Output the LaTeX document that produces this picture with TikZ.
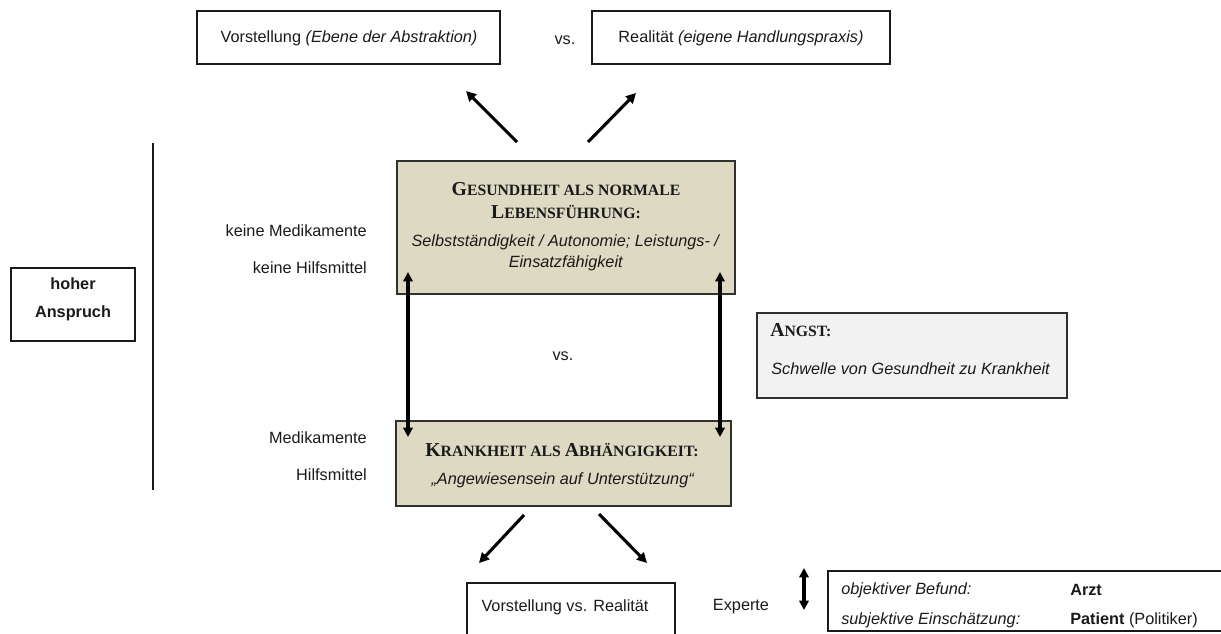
\documentclass[tikz,border=0pt]{standalone}
\usepackage{fontspec}
\setmainfont{Liberation Sans}
\newfontfamily\titlefont{Liberation Serif}
\usetikzlibrary{arrows.meta,fit}

\definecolor{tan}{HTML}{DDD9C3}
\definecolor{paleg}{HTML}{F2F2F2}
\definecolor{ink}{HTML}{1A1A1A}

% faked small capitals: large initial, smaller rest
\newcommand\capbig[1]{{\fontsize{14.8}{17}\selectfont #1}}
\newcommand\capsmall[1]{{\fontsize{11.8}{17}\selectfont #1}}

\tikzset{
  txt/.style={inner sep=0pt, text=ink, font=\fontsize{12.2}{14}\selectfont},
  plainbox/.style={draw=ink, line width=1.1pt, inner sep=0pt},
  tanbox/.style={draw=ink!90, line width=1.4pt, fill=tan, inner sep=0pt},
  greybox/.style={draw=ink!90, line width=1.4pt, fill=paleg, inner sep=0pt},
  title/.style={inner sep=0pt, text=ink, font=\titlefont\bfseries},
  arr/.style={line width=2.3pt, -{Triangle[length=7.5pt,width=7.5pt]}},
  darr/.style={line width=2.4pt, {Triangle[length=7pt,width=7pt]}-{Triangle[length=7pt,width=7pt]}},
}

\begin{document}
\begin{tikzpicture}[x=0.75pt, y=-0.75pt]
\useasboundingbox (0,0) rectangle (1221,633);
\clip (0,0) rectangle (1221,633);

% top row
\node[plainbox, fit={(197,11) (500,64)}] (vorst) {};
\node[txt] (vorstT) at (349,38) {Vorstellung \textit{(Ebene der Abstraktion)}};
\node[txt] (vsTop) at (565,40) {vs.};
\node[plainbox, fit={(592,11) (890,64)}] (real) {};
\node[txt] (realT) at (741,38) {Realität \textit{(eigene Handlungspraxis)}};

% arrows up from the health box
\coordinate (upLs) at (517,142);
\coordinate (upLe) at (466,91);
\coordinate (upRs) at (588,142);
\coordinate (upRe) at (636,93);
\draw[arr] (upLs) -- (upLe);
\draw[arr] (upRs) -- (upRe);

% left side
\coordinate (sepTop) at (153,143);
\coordinate (sepBot) at (153,490);
\draw[line width=1.1pt, ink] (sepTop) -- (sepBot);
\node[plainbox, fit={(11,268) (135,341)}] (anspruch) {};
\node[txt, font=\fontsize{12.2}{14}\selectfont\bfseries] (hoher) at (73,284) {hoher};
\node[txt, font=\fontsize{12.2}{14}\selectfont\bfseries] (anspr) at (73,313) {Anspruch};

\node[txt, anchor=east] (kMed) at (367,231) {keine Medikamente};
\node[txt, anchor=east] (kHilf) at (367,268) {keine Hilfsmittel};
\node[txt, anchor=east] (med) at (367,438) {Medikamente};
\node[txt, anchor=east] (hilf) at (367,475) {Hilfsmittel};

% health box
\node[tanbox, fit={(397,161) (735,294)}] (gesund) {};
\node[title] (gT1) at (566,189) {\capbig{G}\capsmall{ESUNDHEIT ALS NORMALE}};
\node[title] (gT2) at (566,212) {\capbig{L}\capsmall{EBENSFÜHRUNG:}};
\node[txt] (gS1) at (566,242) {\textit{Selbstständigkeit / Autonomie; Leistungs- /}};
\node[txt] (gS2) at (566,263) {\textit{Einsatzfähigkeit}};

\node[txt] (vsMid) at (563,356) {vs.};

% illness box
\node[tanbox, fit={(396,421) (731,506)}] (krank) {};
\node[title] (kT) at (562,450) {\capbig{K}\capsmall{RANKHEIT ALS }\capbig{A}\capsmall{BHÄNGIGKEIT:}};
\node[txt] (kS) at (563,480) {\textit{„Angewiesensein auf Unterstützung“}};

% two-way arrows between health and illness
\coordinate (lTop) at (408,272);
\coordinate (lBot) at (408,437);
\coordinate (rTop) at (720,272);
\coordinate (rBot) at (720,437);
\draw[darr] (lTop) -- (lBot);
\draw[darr] (rTop) -- (rBot);

% fear box
\node[greybox, fit={(757,313) (1067,398)}] (angst) {};
\node[title, anchor=west] (aT) at (770,330) {\capbig{A}\capsmall{NGST:}};
\node[txt, anchor=west] (aS) at (771,369) {\textit{Schwelle von Gesundheit zu Krankheit}};

% arrows down from the illness box
\coordinate (dnLs) at (524,515);
\coordinate (dnLe) at (479,563);
\coordinate (dnRs) at (599,514);
\coordinate (dnRe) at (647,563);
\draw[arr] (dnLs) -- (dnLe);
\draw[arr] (dnRs) -- (dnRe);

% bottom row
\node[plainbox, fit={(467,583) (675,645)}] (vvr) {};
\node[txt] (vvrT) at (565,607) {Vorstellung vs. Realität};
\node[txt] (experte) at (741,607) {Experte};
\coordinate (eTop) at (804,568);
\coordinate (eBot) at (804,610);
\draw[darr] (eTop) -- (eBot);

\node[plainbox, fit={(828,571) (1235,631)}] (befund) {};
\node[txt, anchor=west] (obj) at (841,590) {\textit{objektiver Befund:}};
\node[txt, anchor=west] (arzt) at (1070,590) {\textbf{Arzt}};
\node[txt, anchor=west] (subj) at (841,620) {\textit{subjektive Einschätzung:}};
\node[txt, anchor=west] (pat) at (1070,620) {\textbf{Patient} (Politiker)};
\end{tikzpicture}
\end{document}
